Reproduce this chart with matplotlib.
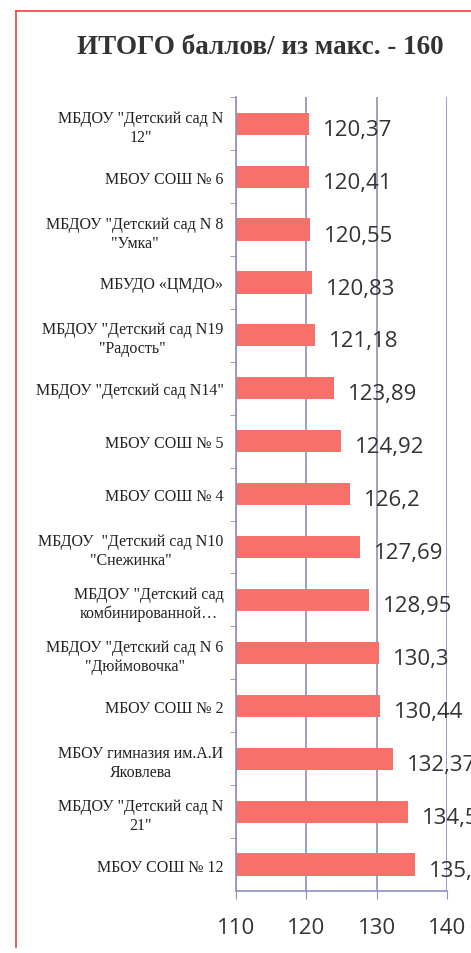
import matplotlib
matplotlib.use('Agg')
import matplotlib.pyplot as plt
from matplotlib.lines import Line2D

# data (top to bottom as in the chart)
names = [
    'МБДОУ "Детский сад N\n12"',
    'МБОУ СОШ № 6',
    'МБДОУ "Детский сад N 8\n"Умка"',
    'МБУДО «ЦМДО»',
    'МБДОУ "Детский сад N19\n"Радость"',
    'МБДОУ "Детский сад N14"',
    'МБОУ СОШ № 5',
    'МБОУ СОШ № 4',
    'МБДОУ  "Детский сад N10\n"Снежинка"',
    'МБДОУ "Детский сад\nкомбинированной…',
    'МБДОУ "Детский сад N 6\n"Дюймовочка"',
    'МБОУ СОШ № 2',
    'МБОУ гимназия им.А.И\nЯковлева',
    'МБДОУ "Детский сад N\n21"',
    'МБОУ СОШ № 12',
]
scores = [120.37, 120.41, 120.55, 120.83, 121.18, 123.89, 124.92, 126.2,
          127.69, 128.95, 130.3, 130.44, 132.37, 134.5, 135.4]
xticks = [110, 120, 130, 140]

bar_color = '#F7716A'
grid_color = '#8C8FC4'

fig = plt.figure(figsize=(4.71, 9.54), dpi=100)
ax = fig.add_axes([0.501, 0.065, 0.448, 0.832])

pos = list(range(len(names)))
ax.barh(pos, scores, height=0.42, color=bar_color, left=0)
ax.set_xlim(110, 140)
ax.set_ylim(len(names) - 0.5, -0.5)

# value labels, the last ones run off the page like in the scan
for i, v in enumerate(scores):
    ax.annotate(f"{v:g}".replace('.', ','), (v, i), xytext=(10, -4),
                textcoords='offset points', ha='left', va='center',
                fontsize=16, family='Open Sans', color='#333333',
                annotation_clip=False)

ax.set_yticks(pos)
ax.set_yticklabels(names, family='Liberation Serif', fontsize=11.5,
                   color='#222222', multialignment='center', linespacing=1.25)
ax.set_yticks([p + 0.5 for p in pos[:-1]] + [-0.5], minor=True)
ax.tick_params(axis='y', which='major', length=0, pad=9)
ax.tick_params(axis='y', which='minor', length=4, color=grid_color, direction='out')

ax.set_xticks(xticks)
ax.set_xticklabels([str(t) for t in xticks], family='Open Sans', fontsize=16,
                   color='#333333')
ax.tick_params(axis='x', length=6, color=grid_color, pad=13)

ax.grid(axis='x', color=grid_color, linewidth=1.2)
ax.set_axisbelow(True)
for s in ['top', 'right']:
    ax.spines[s].set_visible(False)
ax.spines['left'].set_color(grid_color)
ax.spines['bottom'].set_color(grid_color)
ax.spines['left'].set_linewidth(1.2)
ax.spines['bottom'].set_linewidth(1.2)

fig.text(0.552, 1 - 48 / 954, 'ИТОГО баллов/ из макс. - 160', ha='center',
         va='center', fontsize=19.5, fontweight='bold', family='Liberation Serif',
         color='#333333')

# red frame of the scanned page
fig.add_artist(Line2D([16 / 471, 16 / 471], [1 - 12 / 954, 1 - 948 / 954],
                      color='#E8453C', linewidth=1.2, transform=fig.transFigure))
fig.add_artist(Line2D([16 / 471, 1], [1 - 12 / 954, 1 - 12 / 954],
                      color='#E8453C', linewidth=1.2, transform=fig.transFigure))

fig.savefig('out.png', dpi=100)
